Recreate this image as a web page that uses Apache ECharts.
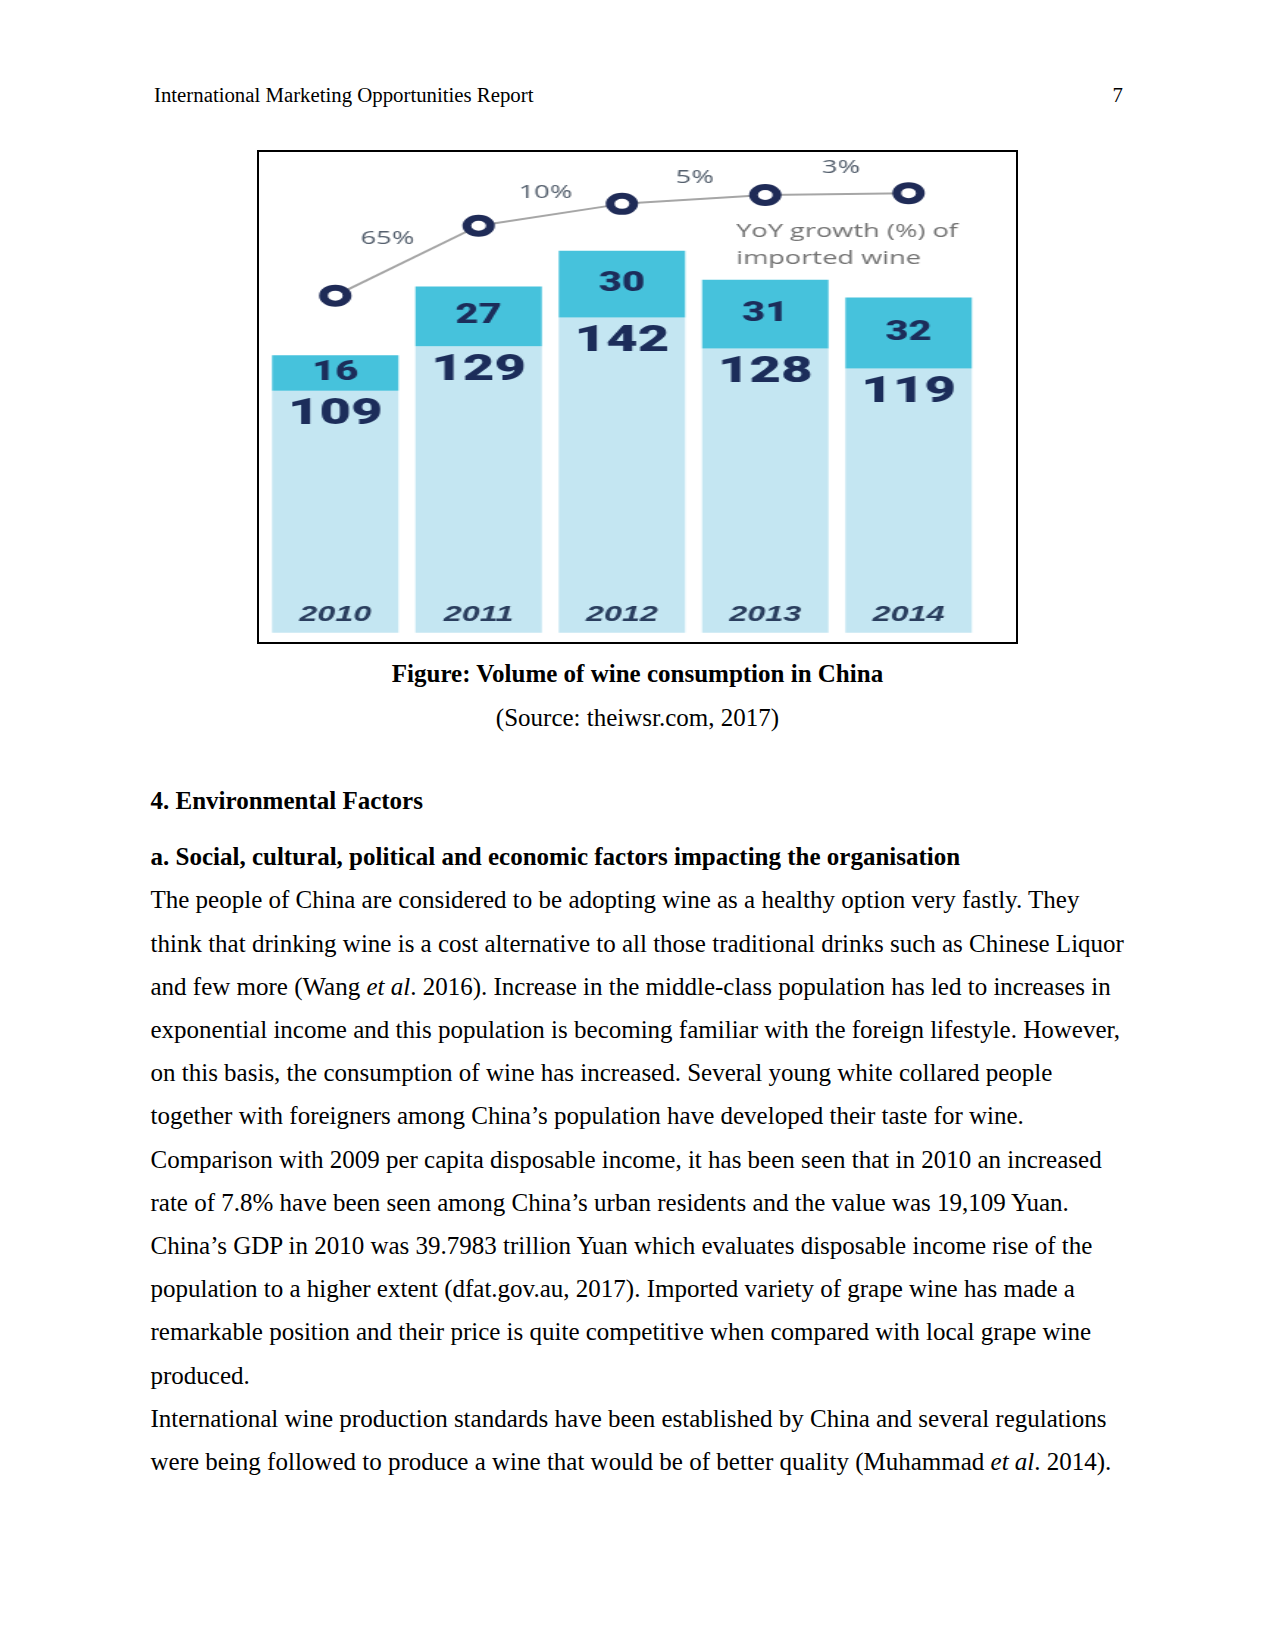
<!DOCTYPE html>
<html><head><meta charset="utf-8">
<script src="https://cdn.jsdelivr.net/npm/echarts@6/dist/echarts.min.js"></script>
<style>
html,body{margin:0;padding:0;background:#fff;}
body{width:1275px;height:1651px;position:relative;overflow:hidden;font-family:"Liberation Serif","Times New Roman",serif;color:#000;}
.t{position:absolute;left:150.5px;white-space:nowrap;font-size:25px;line-height:25px;}
.b{font-weight:bold;}
.hd{position:absolute;white-space:nowrap;font-size:20.8px;line-height:21px;}
#chart{position:absolute;left:257px;top:150px;width:518px;height:494px;transform:scaleX(1.47);transform-origin:0 0;}
#frame{position:absolute;left:257px;top:150px;width:761px;height:494px;border:2px solid #000;box-sizing:border-box;pointer-events:none;}
</style></head>
<body>
<div class="hd" style="left:154px;top:84px;">International Marketing Opportunities Report</div>
<div class="hd" style="right:152px;top:84px;">7</div>

<div id="chart"></div>
<div id="frame"></div>

<div class="t b" style="left:0;width:1275px;text-align:center;top:660.6px;">Figure: Volume of wine consumption in China</div>
<div class="t" style="left:0;width:1275px;text-align:center;top:705px;">(Source: theiwsr.com, 2017)</div>

<div class="t b" style="top:788.4px;">4. Environmental Factors</div>
<div class="t b" style="top:844px;">a. Social, cultural, political and economic factors impacting the organisation</div>

<div class="t" style="top:887.4px;">The people of China are considered to be adopting wine as a healthy option very fastly. They</div>
<div class="t" style="top:930.6px;">think that drinking wine is a cost alternative to all those traditional drinks such as Chinese Liquor</div>
<div class="t" style="top:973.8px;">and few more (Wang <i>et al</i>. 2016). Increase in the middle-class population has led to increases in</div>
<div class="t" style="top:1017px;">exponential income and this population is becoming familiar with the foreign lifestyle. However,</div>
<div class="t" style="top:1060.2px;">on this basis, the consumption of wine has increased. Several young white collared people</div>
<div class="t" style="top:1103.4px;">together with foreigners among China’s population have developed their taste for wine.</div>
<div class="t" style="top:1146.6px;">Comparison with 2009 per capita disposable income, it has been seen that in 2010 an increased</div>
<div class="t" style="top:1189.8px;">rate of 7.8% have been seen among China’s urban residents and the value was 19,109 Yuan.</div>
<div class="t" style="top:1233px;">China’s GDP in 2010 was 39.7983 trillion Yuan which evaluates disposable income rise of the</div>
<div class="t" style="top:1276.2px;">population to a higher extent (dfat.gov.au, 2017). Imported variety of grape wine has made a</div>
<div class="t" style="top:1319.4px;">remarkable position and their price is quite competitive when compared with local grape wine</div>
<div class="t" style="top:1362.6px;">produced.</div>
<div class="t" style="top:1405.8px;">International wine production standards have been established by China and several regulations</div>
<div class="t" style="top:1449px;">were being followed to produce a wine that would be of better quality (Muhammad <i>et al</i>. 2014).</div>

<script>
// ---- data ----
const years = ['2010', '2011', '2012', '2013', '2014'];
const domestic = [109, 129, 142, 128, 119];
const imported = [16, 27, 30, 31, 32];
// relative height of the growth line markers
const growthLevel = [91.1, 110, 115.9, 118.3, 118.8];
const growthPct = [null, 65, 10, 5, 3];
const legendText = 'YoY growth (%) of\nimported wine';

// ---- label placement (style, not data) ----
const growthLabelOffsets = [null, [-62, 13], [-52, -11], [-48, -17], [-46, -25]];

const navy = '#1c2d5a';
const chart = echarts.init(document.getElementById('chart'), null, {renderer: 'canvas'});
chart.setOption({
  animation: false,
  title: {
    text: legendText,
    left: 326, top: 68, padding: 0,
    textStyle: {fontFamily: 'Open Sans', fontSize: 18.5, fontWeight: 'normal', color: '#737373', lineHeight: 27}
  },
  grid: {left: 4.5, right: 26, top: 38.7, bottom: 11.3, containLabel: false},
  xAxis: {
    type: 'category', data: years, z: 10,
    axisLine: {show: false}, axisTick: {show: false}, splitLine: {show: false},
    axisLabel: {inside: true, margin: 7, fontFamily: 'Liberation Sans', fontStyle: 'italic', fontWeight: 'bold', fontSize: 22, color: '#2a3e5e'}
  },
  yAxis: [
    {type: 'value', min: 0, max: 200, show: false, splitLine: {show: false}},
    {type: 'value', min: 0, max: 120, show: false, splitLine: {show: false}}
  ],
  series: [
    {
      name: 'Domestic', type: 'bar', stack: 'total', barWidth: 86, data: domestic,
      itemStyle: {color: '#c4e6f2'},
      label: {show: true, position: 'insideTop', distance: 6, fontFamily: 'Roboto', fontWeight: 900, fontSize: 37, color: navy}
    },
    {
      name: 'Imported', type: 'bar', stack: 'total', barWidth: 86, data: imported,
      itemStyle: {color: '#46c2dc'},
      label: {show: true, position: 'inside', fontFamily: 'Roboto', fontWeight: 900, fontSize: 27, color: navy}
    },
    {
      name: 'YoY growth', type: 'line', yAxisIndex: 1, z: 5, clip: false,
      symbol: 'circle', symbolSize: 16, showAllSymbol: true,
      lineStyle: {color: '#a6a6a6', width: 2},
      itemStyle: {color: '#ffffff', borderColor: '#1f2b57', borderWidth: 6},
      label: {show: false, position: 'inside', fontFamily: 'Open Sans', fontSize: 18.5, color: '#55606e'},
      data: growthLevel.map((v, i) => growthPct[i] == null
        ? {value: v}
        : {value: v, label: {show: true, formatter: growthPct[i] + '%', offset: growthLabelOffsets[i]}})
    }
  ]
});
</script>
</body></html>
